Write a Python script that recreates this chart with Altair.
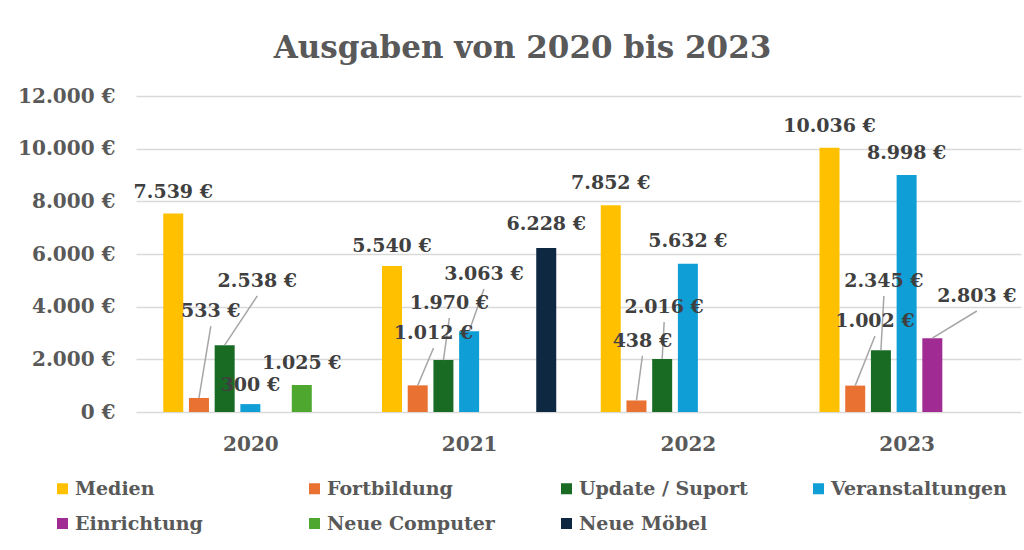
import json
import altair as alt
import pandas as pd

# ---------------- data ----------------
years = ["2020", "2021", "2022", "2023"]
series = ["Medien", "Fortbildung", "Update / Suport", "Veranstaltungen",
          "Einrichtung", "Neue Computer", "Neue Möbel"]
colors = ["#FFC000", "#E97132", "#196B24", "#0F9ED5", "#A02B93", "#4EA72E", "#0E2841"]

medien = [7539, 5540, 7852, 10036]
fortbildung = [533, 1012, 438, 1002]
update_suport = [2538, 1970, 2016, 2345]
veranstaltungen = [300, 3063, 5632, 8998]
einrichtung = [None, None, None, 2803]
neue_computer = [1025, None, None, None]
neue_moebel = [None, 6228, None, None]
values = [medien, fortbildung, update_suport, veranstaltungen,
          einrichtung, neue_computer, neue_moebel]

# ---------------- label layout (annotation placement) ----------------
label_y = [
    [8354, 6300, 8700, 10860],
    [3835, 3000, 2700, 3455],
    [4975, 4140, 3990, 4975],
    [1025, 5240, 6490, 9835],
    [None, None, None, 4405],
    [1860, None, None, None],
    [None, 7140, None, None],
]
label_shift_px = [
    [0, 0, 0, 0],
    [12, 16, 6, 20],
    [33, 6, 2, 3],
    [0, 15, 0, 0],
    [0, 0, 0, 45],
    [0, 0, 0, 0],
    [0, 0, 0, 0],
]
has_leader = [
    [False, False, False, False],
    [True, True, True, True],
    [True, True, True, True],
    [False, True, False, False],
    [False, False, False, True],
    [False, False, False, False],
    [False, False, False, False],
]

rows = []
for si, s in enumerate(series):
    for yi, yr in enumerate(years):
        v = values[si][yi]
        if v is None:
            continue
        rows.append({
            "year_idx": yi, "slot": si, "series": s, "value": v,
            "label_y": label_y[si][yi], "shift": label_shift_px[si][yi],
            "leader": has_leader[si][yi],
        })
df = pd.DataFrame(rows)

# ---------------- layout constants ----------------
W, H = 885, 316
BAND = W / len(years)
SLOT = 26 / BAND
FONT = "DejaVu Serif"
AX_COLOR = "#595959"

year_expr = json.dumps(years) + "[datum.value]"
euro_expr = "replace(format(datum.value, ',d'), ',', '.') + ' €'"

base = alt.Chart(df).transform_calculate(
    x=f"datum.year_idx + (datum.slot - 3) * {SLOT}",
    xl=f"datum.year_idx + (datum.slot - 3) * {SLOT} + datum.shift / {BAND}",
    lead_y="datum.label_y - 570",
    label="replace(format(datum.value, ',d'), ',', '.') + ' €'",
)

xscale = alt.Scale(domain=[-0.5, len(years) - 0.5], nice=False, zero=False)
yscale = alt.Scale(domain=[0, 12000], nice=False)

xaxis = alt.Axis(values=list(range(len(years))), labelExpr=year_expr, grid=False,
                 domain=False, ticks=False, labelPadding=22, labelFont=FONT,
                 labelFontSize=20, labelFontWeight="bold", labelColor=AX_COLOR, title=None)
yaxis = alt.Axis(values=list(range(0, 12001, 2000)), labelExpr=euro_expr, grid=True,
                 gridColor="#D9D9D9", gridWidth=1.5, domain=False, ticks=False,
                 labelPadding=21, labelFont=FONT, labelFontSize=20, labelFontWeight="bold",
                 labelColor=AX_COLOR, title=None)

bars = base.mark_bar(width=20).encode(
    x=alt.X("x:Q", scale=xscale, axis=xaxis),
    y=alt.Y("value:Q", scale=yscale, axis=yaxis),
    color=alt.Color("series:N", scale=alt.Scale(domain=series, range=colors),
                    legend=alt.Legend(title=None, orient="none", legendX=-83, legendY=383,
                                      direction="horizontal",
                                      columns=4, symbolType="square", symbolSize=121,
                                      symbolStrokeWidth=0, symbolOpacity=1,
                                      labelFont=FONT, labelFontSize=19, labelFontWeight="bold",
                                      labelColor=AX_COLOR, labelOffset=3, labelLimit=400,
                                      columnPadding=54, rowPadding=15, gridAlign="all",
                                      padding=0)),
)

leaders = base.transform_filter("datum.leader").mark_rule(
    color="#A6A6A6", strokeWidth=1.5
).encode(
    x=alt.X("x:Q", scale=xscale), y=alt.Y("value:Q", scale=yscale),
    x2="xl:Q", y2="lead_y:Q",
)

labels = base.mark_text(
    font=FONT, fontSize=19, fontWeight="bold", color="#404040", baseline="middle"
).encode(
    x=alt.X("xl:Q", scale=xscale), y=alt.Y("label_y:Q", scale=yscale), text="label:N",
)

chart = alt.layer(bars, leaders, labels).properties(
    width=W, height=H,
    title=alt.TitleParams("Ausgaben von 2020 bis 2023", font=FONT, fontSize=31,
                          fontWeight="bold", color=AX_COLOR, anchor="middle",
                          dx=-56, offset=21),
    autosize=alt.AutoSizeParams(type="none"),
    padding={"left": 136, "top": 96, "right": 3, "bottom": 138},
    background="white",
).configure_view(stroke=None)

chart.save("out.html", embed_options={"renderer": "svg", "actions": False})
